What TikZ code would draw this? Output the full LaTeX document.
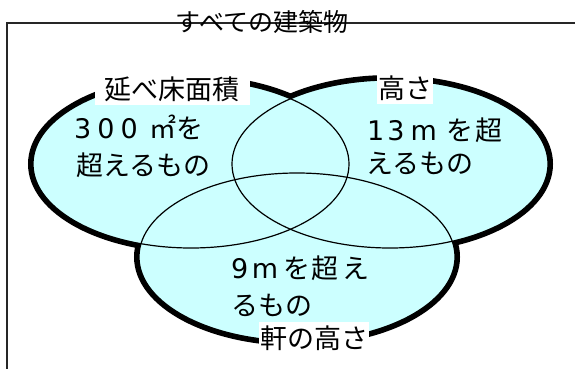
\documentclass[tikz,border=0pt]{standalone}
\usepackage{fontspec}
\newfontfamily\jp{Noto Sans CJK JP}
\newfontfamily\lat{DejaVu Sans}
\definecolor{venn}{HTML}{CCFFFF}
\tikzset{
  body/.style={font=\jp\fontsize{27}{27}\selectfont, inner sep=0pt, anchor=base west},
  lab/.style={font=\jp\fontsize{27}{27}\selectfont, fill=white, text height=24.6pt, text depth=4pt, inner ysep=1.7pt, inner xsep=1pt},
  ttl/.style={font=\jp\fontsize{25}{25}\selectfont, inner sep=0pt, anchor=base}
}
\newcommand{\ltn}[1]{{\lat #1}}
\begin{document}
\begin{tikzpicture}[x=1pt,y=-1pt]
\useasboundingbox (0,0) rectangle (575,369);
% frame
\coordinate (fr1) at (576,23);
\coordinate (fr2) at (7,23);
\coordinate (fr3) at (7,370);
\draw[line width=1.3pt, black!85] (fr1) -- (fr2) -- (fr3);
\node[ttl] (title) at (262,32) {すべての建築物};
% ellipses: thick outline, then refill, then thin lines
\foreach \cx/\cy in {191/164, 390/164, 297/257}{
  \filldraw[fill=venn, draw=black, line width=10pt] (\cx,\cy) ellipse [x radius=158pt, y radius=84pt];
}
\foreach \cx/\cy in {191/164, 390/164, 297/257}{
  \fill[venn] (\cx,\cy) ellipse [x radius=158pt, y radius=84pt];
}
\foreach \cx/\cy in {191/164, 390/164, 297/257}{
  \draw[line width=1.2pt] (\cx,\cy) ellipse [x radius=158pt, y radius=84pt];
}
% set labels
\node[lab, inner xsep=10pt] (la) at (172,89) {延べ床面積};
\node[lab] (lb) at (405,88) {高さ};
\node[lab] (lc) at (314,338) {軒の高さ};
% contents
\node[body] (a1) at (74,138) {\ltn{3}\hspace{6pt}\ltn{0}\hspace{6pt}\ltn{0}\hspace{11.4pt}㎡を};
\node[body] (a2) at (76,175) {超えるもの};
\node[body] (b1) at (367,140) {\ltn{1}\hspace{3pt}\ltn{3}\hspace{6pt}\ltn{m}\hspace{10pt}を\hspace{2pt}超};
\node[body] (b2) at (366,173) {えるもの};
\node[body] (c1) at (231,278) {\ltn{9}\hspace{3.4pt}\ltn{m}\hspace{5.6pt}を\hspace{0.5pt}超\hspace{4pt}え};
\node[body] (c2) at (231,315) {るもの};
\end{tikzpicture}
\end{document}
